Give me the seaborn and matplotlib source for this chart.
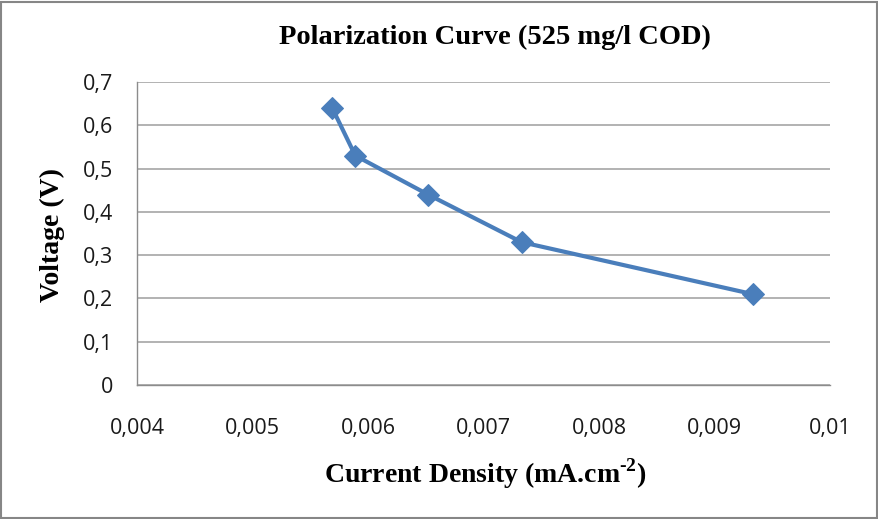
import matplotlib
matplotlib.use("Agg")
import matplotlib.pyplot as plt
from matplotlib.patches import Rectangle
from matplotlib.ticker import FixedLocator, FixedFormatter
import seaborn as sns
import pandas as pd

# Polarization data (525 mg/l COD)
current_density = [0.00569, 0.00589, 0.00652, 0.00733, 0.00933]
voltage = [0.64, 0.53, 0.44, 0.33, 0.21]

x_ticks = [0.004, 0.005, 0.006, 0.007, 0.008, 0.009, 0.010]
x_tick_labels = ["0,004", "0,005", "0,006", "0,007", "0,008", "0,009", "0,01"]
y_ticks = [0.0, 0.1, 0.2, 0.3, 0.4, 0.5, 0.6, 0.7]
y_tick_labels = ["0", "0,1", "0,2", "0,3", "0,4", "0,5", "0,6", "0,7"]

df = pd.DataFrame({"current": current_density, "voltage": voltage})

sns.set_theme(style="white")
plt.rcParams["font.family"] = ["Open Sans", "DejaVu Sans"]
plt.rcParams["mathtext.fontset"] = "custom"
plt.rcParams["mathtext.rm"] = "Liberation Serif:bold"

W, H = 879, 519
fig = plt.figure(figsize=(W / 100, H / 100), dpi=100)
ax = fig.add_axes([137 / W, 1 - 385 / H, (830 - 137) / W, (385 - 82) / H])

line_color = "#4a7ebb"
sns.lineplot(data=df, x="current", y="voltage", ax=ax, sort=False,
             color=line_color, linewidth=3, marker="D", markersize=11,
             markeredgecolor=line_color, markerfacecolor=line_color)

ax.set_xlim(x_ticks[0], x_ticks[-1])
ax.set_ylim(y_ticks[0], y_ticks[-1])
ax.xaxis.set_major_locator(FixedLocator(x_ticks))
ax.xaxis.set_major_formatter(FixedFormatter(x_tick_labels))
ax.yaxis.set_major_locator(FixedLocator(y_ticks))
ax.yaxis.set_major_formatter(FixedFormatter(y_tick_labels))

ax.grid(axis="y", color="#a6a6a6", linewidth=1.2)
ax.grid(axis="x", visible=False)
ax.set_axisbelow(True)
for side in ("top", "right"):
    ax.spines[side].set_visible(False)
for side in ("left", "bottom"):
    ax.spines[side].set_color("#8c8c8c")
    ax.spines[side].set_linewidth(1.0)

ax.tick_params(axis="x", length=0, pad=24, labelsize=15.5, labelcolor="#1a1a1a")
ax.tick_params(axis="y", length=0, pad=17, labelsize=15.5, labelcolor="#1a1a1a")

serif = ["Liberation Serif", "DejaVu Serif"]
ax.set_xlabel("Current Density (mA.cm$^{\\mathregular{\u20102}}$)", family=serif,
              fontsize=20, fontweight="bold", color="black")
ax.xaxis.set_label_coords(0.502, -0.237)
ax.set_ylabel("Voltage (V)", family=serif, fontsize=20,
              fontweight="bold", color="black")
ax.yaxis.set_label_coords(-0.104, 0.495)

fig.text(495 / W, 1 - 37 / H, "Polarization Curve (525 mg/l COD)",
         family=serif, fontsize=20.5, fontweight="bold",
         ha="center", va="center", color="black")

# Outer chart frame
fig.patches.append(Rectangle((1.5 / W, 1.5 / H), (W - 3) / W, (H - 3) / H,
                             transform=fig.transFigure, fill=False,
                             edgecolor="#868686", linewidth=1.5))

fig.savefig("out.png", dpi=100)
